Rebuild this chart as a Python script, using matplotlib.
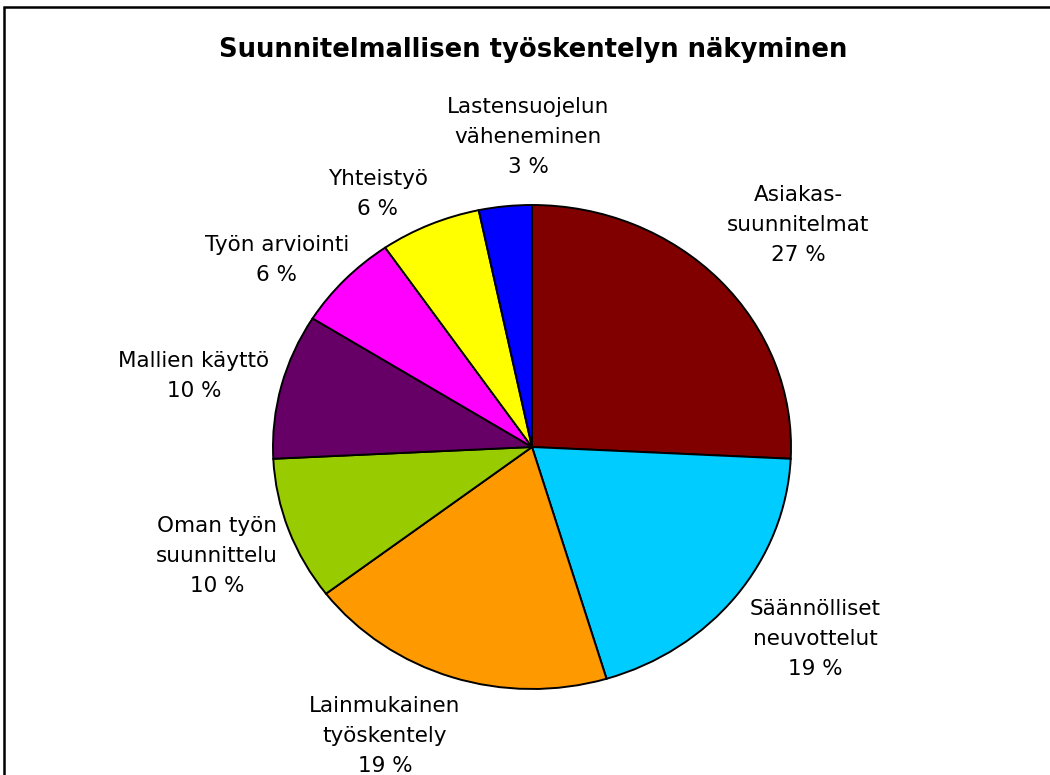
import matplotlib
matplotlib.use("Agg")
import matplotlib.pyplot as plt
from matplotlib.patches import Rectangle

title = "Suunnitelmallisen työskentelyn näkyminen"
categories = ["Asiakas-\nsuunnitelmat", "Säännölliset\nneuvottelut", "Lainmukainen\ntyöskentely",
              "Oman työn\nsuunnittelu", "Mallien käyttö", "Työn arviointi", "Yhteistyö",
              "Lastensuojelun\nväheneminen"]
# percentages as printed in the data labels
percent_labels = [27, 19, 19, 10, 10, 6, 6, 3]
# slice sizes as drawn
slice_shares = [25.8, 19.6, 19.3, 9.6, 9.7, 6.5, 6.3, 3.3]
colors = ["#800000", "#00CCFF", "#FF9900", "#99CC00", "#660066", "#FF00FF", "#FFFF00", "#0000FF"]

# label placement (axes data units, pie radius = 1)
label_pos = [(1.027, 0.917), (1.093, -0.793), (-0.568, -1.194), (-1.216, -0.450),
             (-1.305, 0.293), (-0.985, 0.773), (-0.595, 1.045), (-0.015, 1.281)]

W, H = 1050, 775
fig = plt.figure(figsize=(W / 100, H / 100), dpi=100)
fig.patch.set_facecolor("white")

# outer frame (cut off at right/bottom as in reference)
fig.add_artist(Rectangle((3.5 / W, -0.1), 1.2, 1 - 7 / H + 0.1, transform=fig.transFigure,
                         fill=False, edgecolor="black", linewidth=1.8))

cx, cy, rx, ry = 532, 447, 259, 242
ax = fig.add_axes([(cx - rx) / W, (H - cy - ry) / H, 2 * rx / W, 2 * ry / H])
ax.pie(slice_shares, colors=colors, startangle=90, counterclock=False,
       wedgeprops=dict(edgecolor="black", linewidth=1.4))
ax.set_aspect("auto")
ax.set_xlim(-1, 1)
ax.set_ylim(-1, 1)
ax.axis("off")

for cat, v, (lx, ly) in zip(categories, percent_labels, label_pos):
    ax.text(lx, ly, f"{cat}\n{v} %", ha="center", va="center", fontsize=15.5,
            family="DejaVu Sans", linespacing=1.65, clip_on=False)

fig.text(533 / W, 1 - 50 / H, title, ha="center", va="center", fontsize=18.6,
         fontweight="bold", family="DejaVu Sans")

fig.savefig("out.png", dpi=100)
